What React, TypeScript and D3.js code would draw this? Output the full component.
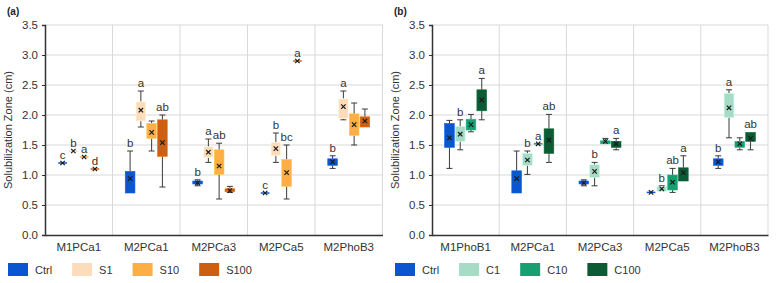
import React, { useEffect, useRef } from 'react';
import * as d3 from 'd3';

// stats per category: [min, q1, q3, max, mean]
type Stat = [number, number, number, number, number];

const catsA = ['M1PCa1', 'M2PCa1', 'M2PCa3', 'M2PCa5', 'M2PhoB3'];
const catsB = ['M1PhoB1', 'M2PCa1', 'M2PCa3', 'M2PCa5', 'M2PhoB3'];

const ctrlA: Stat[] = [
  [1.2, 1.2, 1.2, 1.2, 1.2],
  [0.7, 0.7, 1.06, 1.4, 0.94],
  [0.82, 0.85, 0.9, 0.92, 0.87],
  [0.7, 0.7, 0.7, 0.7, 0.7],
  [1.11, 1.16, 1.27, 1.32, 1.22],
];
const s1A: Stat[] = [
  [1.4, 1.4, 1.4, 1.4, 1.4],
  [1.8, 1.9, 2.22, 2.4, 2.08],
  [1.21, 1.29, 1.47, 1.6, 1.38],
  [1.21, 1.32, 1.54, 1.7, 1.44],
  [1.92, 1.94, 2.27, 2.4, 2.14],
];
const s10A: Stat[] = [
  [1.3, 1.3, 1.3, 1.3, 1.3],
  [1.4, 1.61, 1.86, 1.9, 1.71],
  [0.6, 1.01, 1.42, 1.53, 1.15],
  [0.6, 0.81, 1.26, 1.5, 1.04],
  [1.5, 1.66, 2.02, 2.2, 1.84],
];
const s100A: Stat[] = [
  [1.1, 1.1, 1.1, 1.1, 1.1],
  [0.8, 1.31, 1.92, 2.0, 1.54],
  [0.71, 0.72, 0.77, 0.81, 0.74],
  [2.9, 2.9, 2.9, 2.9, 2.9],
  [1.8, 1.8, 1.97, 2.1, 1.9],
];

const ctrlB: Stat[] = [
  [1.11, 1.46, 1.86, 1.91, 1.62],
  [0.7, 0.7, 1.07, 1.4, 0.94],
  [0.82, 0.85, 0.9, 0.92, 0.87],
  [0.71, 0.71, 0.71, 0.71, 0.71],
  [1.11, 1.16, 1.27, 1.32, 1.22],
];
const c1B: Stat[] = [
  [1.42, 1.56, 1.81, 1.92, 1.68],
  [1.01, 1.16, 1.36, 1.4, 1.25],
  [0.82, 0.96, 1.17, 1.21, 1.06],
  [0.73, 0.73, 0.81, 0.82, 0.77],
  [1.62, 1.96, 2.36, 2.42, 2.12],
];
const c10B: Stat[] = [
  [1.72, 1.75, 1.93, 2.01, 1.84],
  [1.52, 1.52, 1.52, 1.52, 1.52],
  [1.52, 1.52, 1.57, 1.61, 1.56],
  [0.71, 0.75, 1.0, 1.11, 0.88],
  [1.42, 1.46, 1.56, 1.62, 1.52],
];
const c100B: Stat[] = [
  [1.92, 2.07, 2.42, 2.61, 2.25],
  [1.21, 1.36, 1.77, 2.01, 1.58],
  [1.42, 1.46, 1.56, 1.61, 1.52],
  [0.9, 0.9, 1.12, 1.32, 1.04],
  [1.42, 1.56, 1.71, 1.71, 1.61],
];

// significance letters
const lettersCtrlA = ['c', 'b', 'b', 'c', 'b'];
const lettersS1A = ['b', 'a', 'a', 'b', 'a'];
const lettersS10A = ['a', '', 'ab', 'bc', ''];
const lettersS100A = ['d', 'ab', '', 'a', ''];
const lettersCtrlB = ['', '', '', '', 'b'];
const lettersC1B = ['b', 'b', 'b', 'b', 'a'];
const lettersC10B = ['', 'a', '', 'ab', ''];
const lettersC100B = ['a', 'ab', 'a', 'a', 'ab'];

const yTicks = [0, 0.5, 1, 1.5, 2, 2.5, 3, 3.5];

const seriesA = [
  { name: 'Ctrl', color: '#0a56d0', stats: ctrlA, letters: lettersCtrlA },
  { name: 'S1', color: '#fddcbc', stats: s1A, letters: lettersS1A },
  { name: 'S10', color: '#fdae45', stats: s10A, letters: lettersS10A },
  { name: 'S100', color: '#cc5f12', stats: s100A, letters: lettersS100A },
];
const seriesB = [
  { name: 'Ctrl', color: '#0a56d0', stats: ctrlB, letters: lettersCtrlB },
  { name: 'C1', color: '#a6dcc6', stats: c1B, letters: lettersC1B },
  { name: 'C10', color: '#16a072', stats: c10B, letters: lettersC10B },
  { name: 'C100', color: '#0b5b35', stats: c100B, letters: lettersC100B },
];

const FONT = '"Liberation Sans", Arial, sans-serif';
const TEXT = '#333';

type Series = typeof seriesA;

function drawPanel(
  svg: d3.Selection<SVGSVGElement, unknown, null, undefined>,
  tag: string,
  cats: string[],
  series: Series,
  left: number,
  right: number
) {
  const top = 25;
  const bottom = 235;
  const g = svg.append('g');

  const x = d3.scaleBand().domain(cats).range([left, right]);
  const y = d3.scaleLinear().domain([0, 3.5]).range([bottom, top]);
  const inner = d3.scaleBand()
    .domain(series.map(s => s.name))
    .range([-21, 21])
    .paddingInner(0.1);

  // grid
  g.append('g')
    .selectAll('line')
    .data(yTicks.filter(t => t > 0))
    .join('line')
    .attr('x1', left).attr('x2', right)
    .attr('y1', d => y(d)).attr('y2', d => y(d))
    .attr('stroke', '#d9d9d9').attr('stroke-width', 1);
  g.append('g')
    .selectAll('line')
    .data(cats)
    .join('line')
    .attr('x1', d => x(d)! + x.bandwidth()).attr('x2', d => x(d)! + x.bandwidth())
    .attr('y1', top).attr('y2', bottom)
    .attr('stroke', '#d9d9d9').attr('stroke-width', 1);

  // y axis
  const yAxis = g.append('g')
    .attr('transform', `translate(${left},0)`)
    .call(d3.axisLeft(y).tickValues(yTicks).tickFormat(d3.format('.1f')).tickSize(3));
  yAxis.select('.domain').attr('stroke', '#333').attr('stroke-width', 1.5);
  yAxis.selectAll('.tick line').attr('stroke', '#333');
  yAxis.selectAll('.tick text')
    .attr('font-family', FONT).attr('font-size', 11.5).attr('fill', TEXT).attr('dx', -1);

  // x axis
  const xAxis = g.append('g')
    .attr('transform', `translate(0,${bottom})`)
    .call(d3.axisBottom(x).tickSize(0).tickPadding(8));
  xAxis.select('.domain').attr('stroke', '#333').attr('stroke-width', 1.5);
  xAxis.selectAll('.tick text')
    .attr('font-family', FONT).attr('font-size', 11.5).attr('fill', TEXT);

  // boxes
  series.forEach(s => {
    const bw = inner.bandwidth();
    s.stats.forEach(([mn, q1, q3, mx, mean], i) => {
      const cx = x(cats[i])! + x.bandwidth() / 2 + inner(s.name)! + bw / 2;
      const bg = g.append('g');
      // whiskers
      if (mx > q3) {
        bg.append('line').attr('x1', cx).attr('x2', cx).attr('y1', y(mx)).attr('y2', y(q3))
          .attr('stroke', '#3a3a3a').attr('stroke-width', 1);
        bg.append('line').attr('x1', cx - 3).attr('x2', cx + 3).attr('y1', y(mx)).attr('y2', y(mx))
          .attr('stroke', '#3a3a3a').attr('stroke-width', 1);
      }
      if (mn < q1) {
        bg.append('line').attr('x1', cx).attr('x2', cx).attr('y1', y(q1)).attr('y2', y(mn))
          .attr('stroke', '#3a3a3a').attr('stroke-width', 1);
        bg.append('line').attr('x1', cx - 3).attr('x2', cx + 3).attr('y1', y(mn)).attr('y2', y(mn))
          .attr('stroke', '#3a3a3a').attr('stroke-width', 1);
      }
      const h = y(q1) - y(q3);
      if (h < 0.5) {
        bg.append('line')
          .attr('x1', cx - bw / 2 + 0.5).attr('x2', cx + bw / 2 - 0.5)
          .attr('y1', y(q3)).attr('y2', y(q3))
          .attr('stroke', s.color).attr('stroke-width', 1.5);
      } else {
        bg.append('rect')
          .attr('x', cx - bw / 2).attr('width', bw)
          .attr('y', y(q3)).attr('height', h)
          .attr('fill', s.color)
          .attr('stroke', d3.color(s.color)!.brighter(0.4).formatHex())
          .attr('stroke-width', 0.6);
      }
      // mean marker
      const m = 2.2;
      const my = y(mean);
      bg.append('path')
        .attr('d', `M${cx - m},${my - m}L${cx + m},${my + m}M${cx - m},${my + m}L${cx + m},${my - m}`)
        .attr('stroke', '#1a1a1a').attr('stroke-width', 1.2).attr('fill', 'none');
      // letter
      if (s.letters[i]) {
        bg.append('text')
          .attr('x', cx).attr('y', y(mx) - 4)
          .attr('text-anchor', 'middle')
          .attr('font-family', FONT).attr('font-size', 11.5).attr('fill', TEXT)
          .text(s.letters[i]);
      }
    });
  });

  // panel tag
  svg.append('text')
    .attr('x', left - 38).attr('y', 15)
    .attr('font-family', FONT).attr('font-size', 10).attr('font-weight', 'bold').attr('fill', '#222')
    .text(tag);

  // y title
  svg.append('text')
    .attr('transform', `translate(${left - 33},${(top + bottom) / 2}) rotate(-90)`)
    .attr('text-anchor', 'middle')
    .attr('font-family', FONT).attr('font-size', 11).attr('fill', TEXT)
    .text('Solubilization Zone (cm)');

  // legend
  let lx = left - 37;
  series.forEach(s => {
    svg.append('rect')
      .attr('x', lx).attr('y', 263).attr('width', 20).attr('height', 13)
      .attr('fill', s.color);
    const t = svg.append('text')
      .attr('x', lx + 27).attr('y', 273.5)
      .attr('font-family', FONT).attr('font-size', 11).attr('fill', TEXT)
      .text(s.name);
    const w = (t.node() as SVGTextElement).getComputedTextLength();
    lx += 27 + w + 20;
  });
}

export default function App() {
  const ref = useRef<SVGSVGElement>(null);

  useEffect(() => {
    document.body.style.margin = '0';
    const svg = d3.select(ref.current!);
    svg.selectAll('*').remove();
    drawPanel(svg, '(a)', catsA, seriesA, 45, 382.5);
    drawPanel(svg, '(b)', catsB, seriesB, 432, 768);
  }, []);

  return (
    <svg ref={ref} width={776} height={283} style={{ display: 'block', background: '#fff' }} />
  );
}
